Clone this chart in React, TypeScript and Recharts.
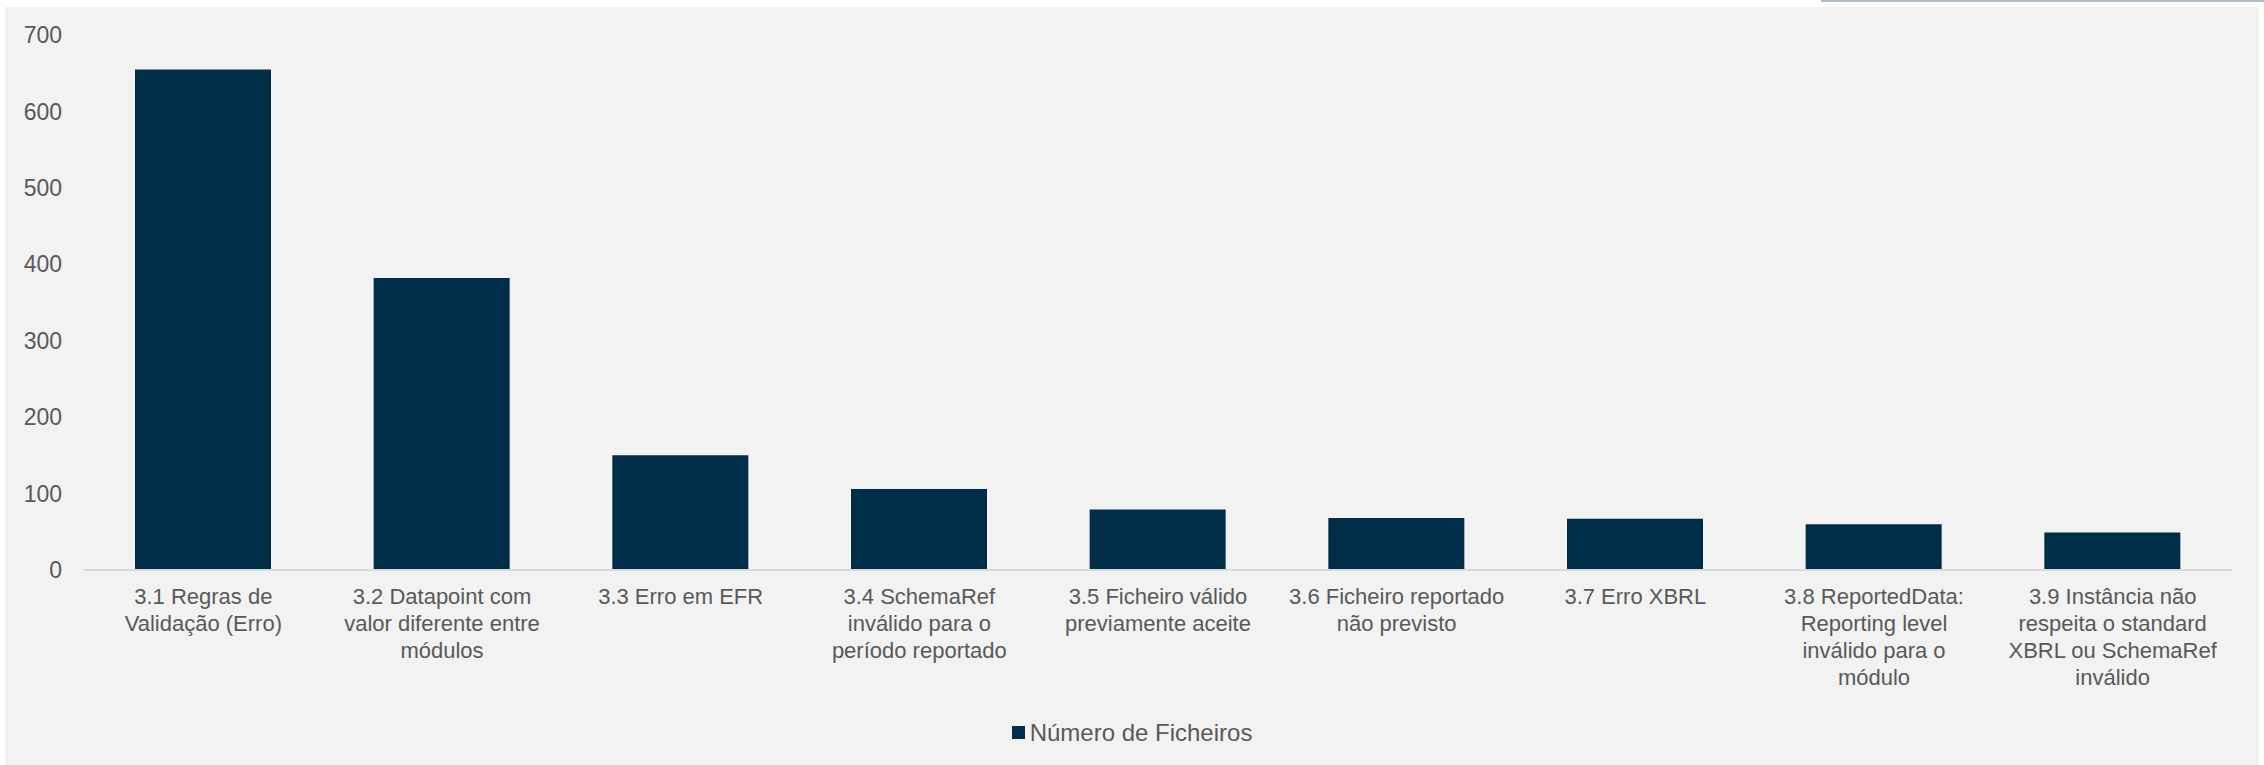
import { BarChart, Bar, XAxis, YAxis, Legend } from 'recharts';

// values
const categories = [
  '3.1 Regras de\nValidação (Erro)',
  '3.2 Datapoint com\nvalor diferente entre\nmódulos',
  '3.3 Erro em EFR',
  '3.4 SchemaRef\ninválido para o\nperíodo reportado',
  '3.5 Ficheiro válido\npreviamente aceite',
  '3.6 Ficheiro reportado\nnão previsto',
  '3.7 Erro XBRL',
  '3.8 ReportedData:\nReporting level\ninválido para o\nmódulo',
  '3.9 Instância não\nrespeita o standard\nXBRL ou SchemaRef\ninválido',
];
const numeroFicheiros = [655, 382, 150, 106, 79, 68, 67, 60, 49];
const yTicks = [0, 100, 200, 300, 400, 500, 600, 700];
const seriesName = 'Número de Ficheiros';

const FONT = '"Liberation Sans", Arial, sans-serif';
const TEXT = '#595959';
const BAR = '#002d48';

const data = categories.map((name, i) => ({ name, value: numeroFicheiros[i] }));

function CategoryTick({ x, y, payload }: any) {
  const lines = String(payload.value).split('\n');
  return (
    <text x={x} y={y} textAnchor="middle" fill={TEXT} fontSize={22} fontFamily={FONT}>
      {lines.map((line, i) => (
        <tspan key={i} x={x} dy={i === 0 ? 34 : 27}>{line}</tspan>
      ))}
    </text>
  );
}

function LegendContent() {
  return (
    <div style={{ display: 'flex', justifyContent: 'center', alignItems: 'center', fontFamily: FONT, fontSize: 24, color: TEXT, height: 27 }}>
      <span style={{ width: 13, height: 13, background: BAR, display: 'inline-block', marginRight: 5 }} />
      <span>{seriesName}</span>
    </div>
  );
}

export default function App() {
  return (
    <div style={{ position: 'absolute', left: 0, top: 0, width: 2264, height: 765, background: '#ffffff', overflow: 'hidden' }}>
      <div style={{ position: 'absolute', left: 1821, top: 0, width: 443, height: 2, background: '#adbdca' }} />
      <div style={{ position: 'absolute', left: 5, top: 7, width: 2254, height: 758, background: '#f2f2f2' }} />
      <div style={{ position: 'absolute', left: 0, top: 0 }}>
        <BarChart
          width={2264}
          height={765}
          data={data}
          margin={{ top: 35, right: 32, bottom: 0, left: 14 }}
        >
          <XAxis
            dataKey="name"
            interval={0}
            height={168}
            tickLine={false}
            tickSize={0}
            tickMargin={0}
            axisLine={{ stroke: '#d9d9d9', strokeWidth: 2 }}
            tick={<CategoryTick />}
          />
          <YAxis
            domain={[0, 700]}
            ticks={yTicks}
            width={70}
            axisLine={false}
            tickLine={false}
            tickSize={0}
            tickMargin={22}
            tick={{ fill: TEXT, fontSize: 23, fontFamily: FONT }}
          />
          <Legend
            content={<LegendContent />}
            wrapperStyle={{ position: 'absolute', top: 719, left: 0, width: 2264, height: 27 }}
          />
          <Bar dataKey="value" name={seriesName} fill={BAR} barSize={136} isAnimationActive={false} />
        </BarChart>
      </div>
    </div>
  );
}
